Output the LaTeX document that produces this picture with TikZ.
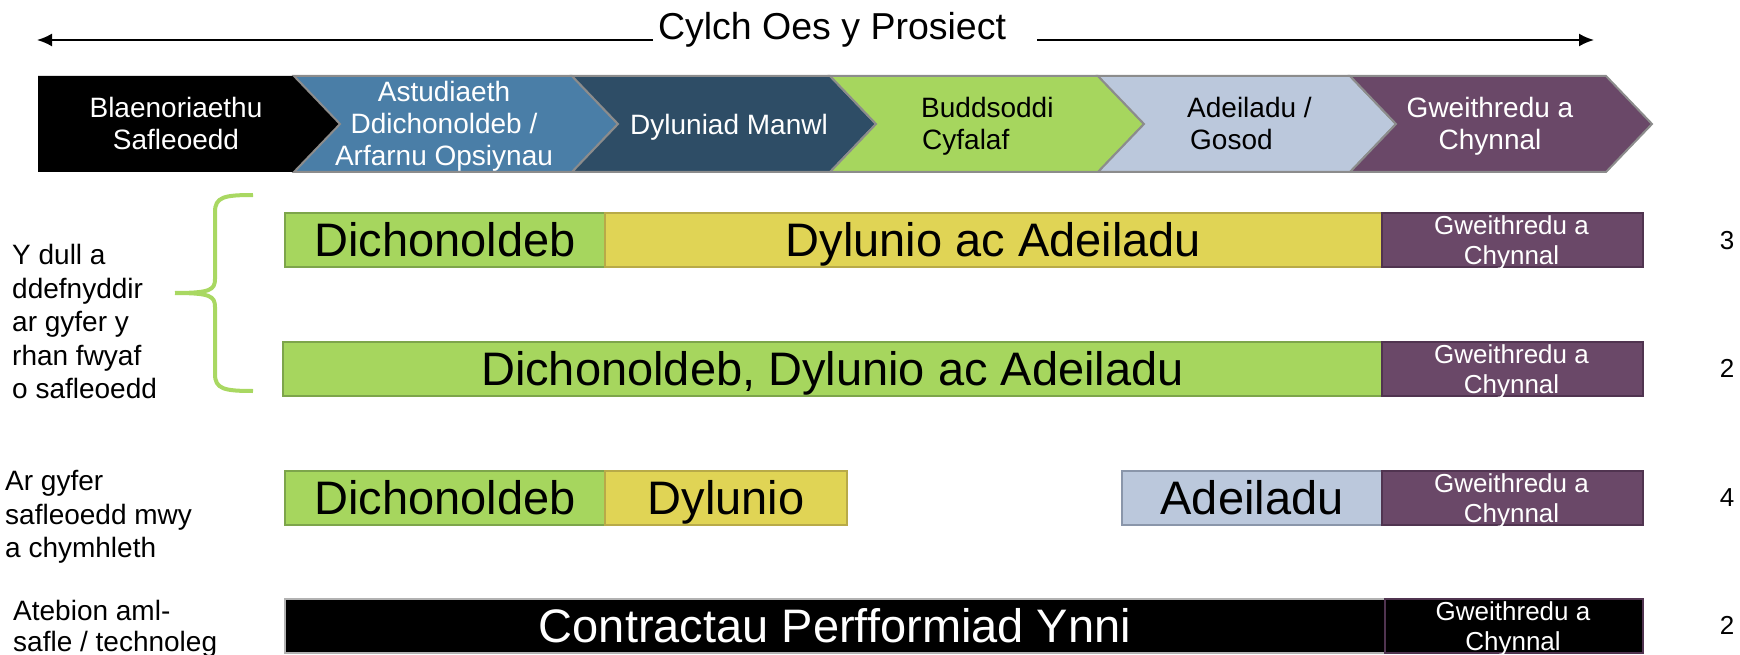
\documentclass[tikz,border=0pt]{standalone}
\usepackage{fontspec}
\setmainfont{Liberation Sans}
\usetikzlibrary{arrows.meta}
\definecolor{cBlue}{RGB}{74,126,167}
\definecolor{cNavy}{RGB}{46,77,102}
\definecolor{cGreen}{RGB}{166,214,94}
\definecolor{cLight}{RGB}{187,200,220}
\definecolor{cPurple}{RGB}{106,72,104}
\definecolor{cYellow}{RGB}{224,212,85}
\definecolor{bGreen}{RGB}{125,165,75}
\definecolor{bYellow}{RGB}{184,170,72}
\definecolor{bLight}{RGB}{138,150,170}
\definecolor{bPurple}{RGB}{80,52,80}
\definecolor{cOutline}{RGB}{140,140,140}
\definecolor{cBrace}{RGB}{169,216,98}
\begin{document}
\begin{tikzpicture}[x=1pt,y=-1pt,
  chev/.style={draw=cOutline,line width=2pt,line join=miter},
  ctext/.style={inner sep=0pt,anchor=base,font=\fontsize{28pt}{28pt}\selectfont},
  cwtext/.style={ctext,anchor=base west},
  ltext/.style={inner sep=0pt,anchor=base west,font=\fontsize{28pt}{28pt}\selectfont},
  bar/.style={anchor=north west,inner sep=0pt,line width=2pt,minimum height=54pt,text height=33pt,text depth=0pt,font=\fontsize{47pt}{47pt}\selectfont},
  gbar/.style={bar,fill=cGreen,draw=bGreen},
  ybar/.style={bar,fill=cYellow,draw=bYellow},
  lbar/.style={bar,fill=cLight,draw=bLight},
  kbar/.style={bar,fill=black,draw=black!30,text=white},
  pbar/.style={bar,fill=cPurple,draw=bPurple,minimum width=261pt},
  kpbar/.style={bar,fill=black,draw=bPurple,minimum width=258pt},
  stext/.style={inner sep=0pt,anchor=base,text=white,font=\fontsize{26pt}{26pt}\selectfont},
  num/.style={inner sep=0pt,anchor=base,font=\fontsize{26pt}{26pt}\selectfont},
  arr/.style={line width=2pt,-{Latex[length=15pt,width=13pt]}}
]
\useasboundingbox (0,0) rectangle (1740,655);

% title and arrows
\node[inner sep=0pt,anchor=base,font=\fontsize{37.5pt}{37.5pt}\selectfont] (title) at (832,40) {Cylch Oes y Prosiect};
\coordinate (lstart) at (653,40);
\coordinate (ltip) at (37,40);
\coordinate (rstart) at (1037,40);
\coordinate (rtip) at (1594,40);
\draw[arr] (lstart) -- (ltip);
\draw[arr] (rstart) -- (rtip);

% chevrons
\fill[black] (38,76) -- (294,76) -- (340,124) -- (294,172) -- (38,172) -- cycle;
\draw[chev,fill=cBlue] (294,76) -- (572,76) -- (618,124) -- (572,172) -- (294,172) -- (340,124) -- cycle;
\draw[chev,fill=cNavy] (572,76) -- (830,76) -- (876,124) -- (830,172) -- (572,172) -- (618,124) -- cycle;
\draw[chev,fill=cGreen] (830,76) -- (1098,76) -- (1144,124) -- (1098,172) -- (830,172) -- (876,124) -- cycle;
\draw[chev,fill=cLight] (1098,76) -- (1350,76) -- (1396,124) -- (1350,172) -- (1098,172) -- (1144,124) -- cycle;
\draw[chev,fill=cPurple] (1350,76) -- (1606,76) -- (1652,124) -- (1606,172) -- (1350,172) -- (1396,124) -- cycle;

\node[ctext,text=white] (c1a) at (176,118) {Blaenoriaethu};
\node[ctext,text=white] (c1b) at (176,150) {Safleoedd};
\node[ctext,text=white] (c2a) at (444,102) {Astudiaeth};
\node[ctext,text=white] (c2b) at (444,134) {Ddichonoldeb /};
\node[ctext,text=white] (c2c) at (444,166) {Arfarnu Opsiynau};
\node[ctext,text=white] (c3a) at (729,135) {Dyluniad Manwl};
\node[cwtext] (c4a) at (921,118) {Buddsoddi};
\node[cwtext] (c4b) at (922,150) {Cyfalaf};
\node[cwtext] (c5a) at (1187,118) {Adeiladu /};
\node[cwtext] (c5b) at (1190,150) {Gosod};
\node[ctext,text=white] (c6a) at (1490,118) {Gweithredu a};
\node[ctext,text=white] (c6b) at (1490,150) {Chynnal};

% brace
\draw[cBrace,line width=4pt,line cap=butt]
  (253,195) .. controls (224,195) and (215,197) .. (215,212) -- (215,279)
  .. controls (215,290) and (210,293) .. (175,293);
\draw[cBrace,line width=4pt,line cap=butt]
  (253,391) .. controls (224,391) and (215,389) .. (215,374) -- (215,307)
  .. controls (215,296) and (210,293) .. (175,293);

% left labels
\node[ltext] (t1a) at (12,264) {Y dull a};
\node[ltext] (t1b) at (12,298) {ddefnyddir};
\node[ltext] (t1c) at (12,331) {ar gyfer y};
\node[ltext] (t1d) at (12,365) {rhan fwyaf};
\node[ltext] (t1e) at (12,398) {o safleoedd};
\node[ltext] (t2a) at (5,490) {Ar gyfer};
\node[ltext] (t2b) at (5,524) {safleoedd mwy};
\node[ltext] (t2c) at (5,557) {a chymhleth};
\node[ltext] (t3a) at (13,620) {Atebion aml-};
\node[ltext] (t3b) at (13,651) {safle / technoleg};

% row 1
\node[gbar,minimum width=320pt] (r1g) at (284,212) {Dichonoldeb};
\node[ybar,minimum width=777pt] (r1y) at (604,212) {Dylunio ac Adeiladu};
\node[pbar] (r1p) at (1381,212) {};
\begin{scope}
\clip (r1p.south west) rectangle (r1p.north east);
\node[stext] (r1pa) at (1511.5,234) {Gweithredu a};
\node[stext] (r1pb) at (1511.5,264) {Chynnal};
\end{scope}
\node[num] (n1) at (1727,249) {3};

% row 2
\node[gbar,minimum width=1099pt] (r2g) at (282,341) {Dichonoldeb, Dylunio ac Adeiladu};
\node[pbar] (r2p) at (1381,341) {};
\begin{scope}
\clip (r2p.south west) rectangle (r2p.north east);
\node[stext] (r2pa) at (1511.5,363) {Gweithredu a};
\node[stext] (r2pb) at (1511.5,393) {Chynnal};
\end{scope}
\node[num] (n2) at (1727,377) {2};

% row 3
\node[gbar,minimum width=320pt] (r3g) at (284,470) {Dichonoldeb};
\node[ybar,minimum width=242pt] (r3y) at (604,470) {Dylunio};
\node[lbar,minimum width=260pt] (r3l) at (1121,470) {Adeiladu};
\node[pbar] (r3p) at (1381,470) {};
\begin{scope}
\clip (r3p.south west) rectangle (r3p.north east);
\node[stext] (r3pa) at (1511.5,492) {Gweithredu a};
\node[stext] (r3pb) at (1511.5,522) {Chynnal};
\end{scope}
\node[num] (n3) at (1727,506) {4};

% row 4
\node[kbar,minimum width=1100pt] (r4k) at (284,598) {Contractau Perfformiad Ynni};
\node[kpbar] (r4p) at (1384,598) {};
\begin{scope}
\clip (r4p.south west) rectangle (r4p.north east);
\node[stext] (r4pa) at (1513,620) {Gweithredu a};
\node[stext] (r4pb) at (1513,650) {Chynnal};
\end{scope}
\node[num] (n4) at (1727,634) {2};
\end{tikzpicture}
\end{document}
